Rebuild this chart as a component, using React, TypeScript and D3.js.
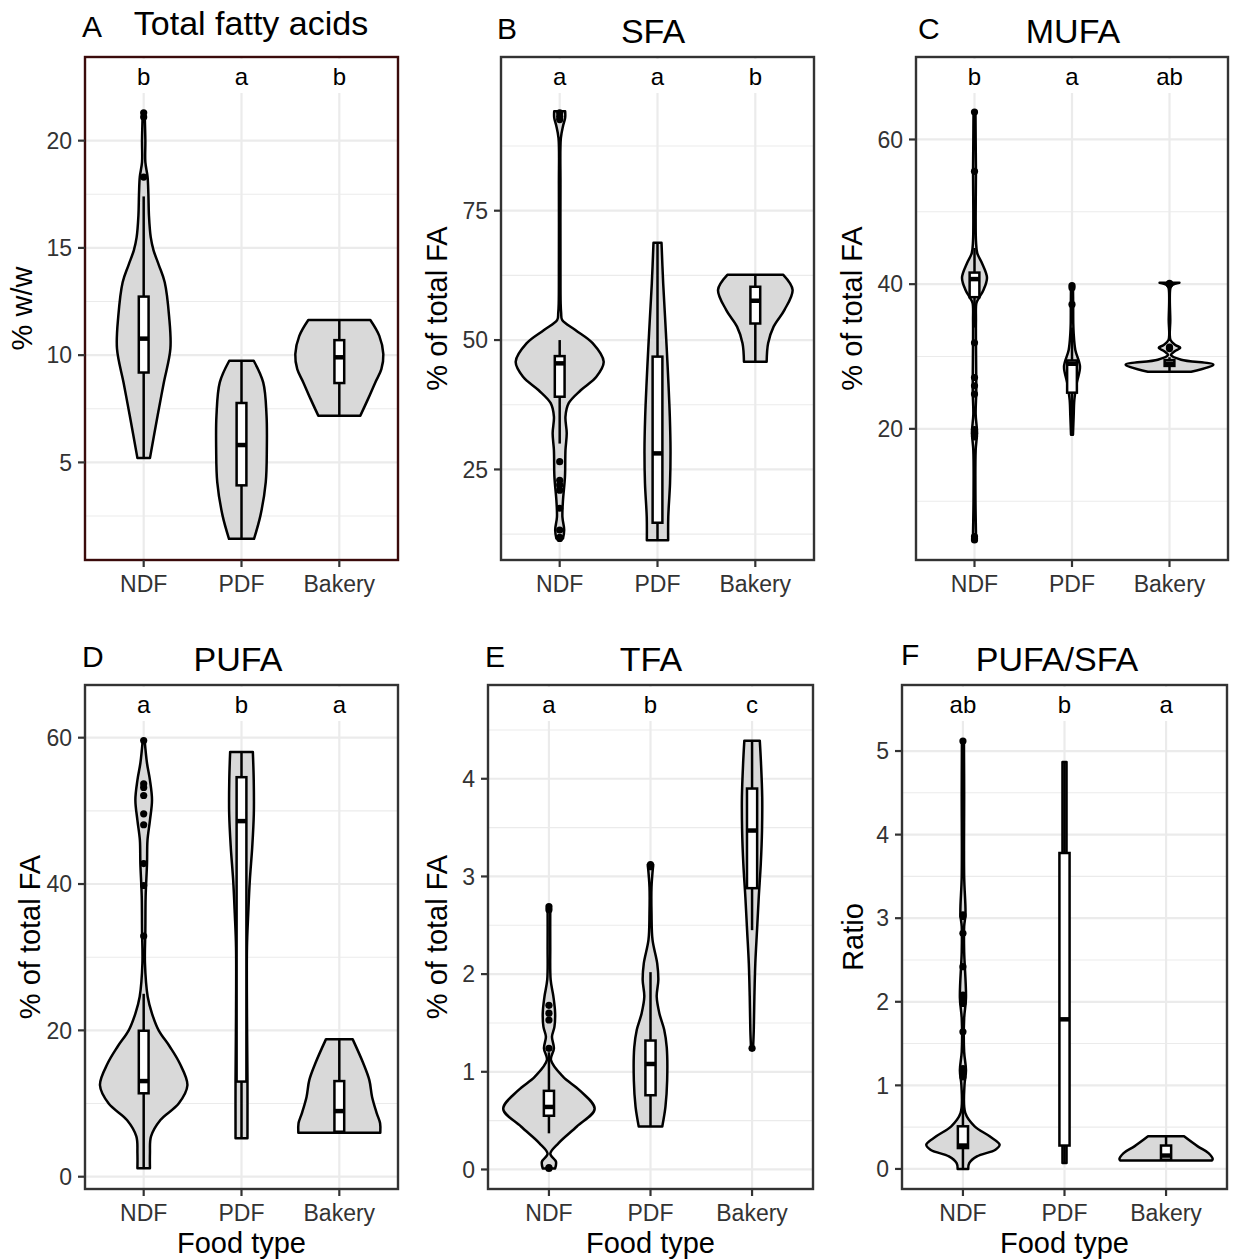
import React from 'react';
import * as d3 from 'd3';

// ---- data ----
const foodTypes = ['NDF', 'PDF', 'Bakery'];
const panelTags = ['A', 'B', 'C', 'D', 'E', 'F'];
const panelTitles = ['Total fatty acids', 'SFA', 'MUFA', 'PUFA', 'TFA', 'PUFA/SFA'];
const yTitles = ['% w/w', '% of total FA', '% of total FA', '% of total FA', '% of total FA', 'Ratio'];
const groupLetters = [
  ['b', 'a', 'b'],
  ['a', 'a', 'b'],
  ['b', 'a', 'ab'],
  ['a', 'b', 'a'],
  ['a', 'b', 'c'],
  ['ab', 'b', 'a'],
];
const yMajorTicks = [
  [5, 10, 15, 20],
  [25, 50, 75],
  [20, 40, 60],
  [0, 20, 40, 60],
  [0, 1, 2, 3, 4],
  [0, 1, 2, 3, 4, 5],
];
const yMinorTicks = [
  [2.5, 7.5, 12.5, 17.5],
  [12.5, 37.5, 62.5, 87.5],
  [10, 30, 50],
  [10, 30, 50],
  [0.5, 1.5, 2.5, 3.5, 4.5],
  [0.5, 1.5, 2.5, 3.5, 4.5],
];
const yLimits: [number, number][] = [
  [0.45, 23.9],
  [7.5, 104.7],
  [1.87, 71.4],
  [-1.68, 67.2],
  [-0.2, 4.96],
  [-0.24, 5.79],
];

// violin outlines: [value, half width in category steps], one list per food type
const totalFaViolins: [number, number][][] = [
  [[21.3, 0.01], [20, 0.017], [19, 0.017], [18.3, 0.04], [17.5, 0.048], [16.5, 0.054], [15.5, 0.072], [14.9, 0.1], [14.2, 0.155], [13.4, 0.215], [11.8, 0.26], [10.3, 0.273], [8.7, 0.205], [7.2, 0.143], [5.2, 0.064]],
  [[9.74, 0.125], [8.73, 0.222], [7.18, 0.256], [5.63, 0.259], [4.08, 0.248], [2.53, 0.194], [1.44, 0.128]],
  [[11.64, 0.317], [10.9, 0.409], [10.05, 0.45], [9.35, 0.43], [8.73, 0.368], [7.95, 0.293], [7.18, 0.215]],
];
const sfaViolins: [number, number][][] = [
  [[94.2, 0.056], [93, 0.056], [91.5, 0.036], [89, 0.012], [80, 0.008], [65, 0.008], [57, 0.01], [55.2, 0.015], [53.9, 0.025], [51.95, 0.16], [49.4, 0.337], [45.8, 0.45], [42.9, 0.375], [40.3, 0.215], [37.8, 0.092], [35.2, 0.059], [32, 0.072], [28.7, 0.059], [23.6, 0.054], [19.1, 0.034], [15.8, 0.028], [13.3, 0.046], [11.66, 0.034]],
  [[68.8, 0.041], [61, 0.058], [54.5, 0.077], [48.1, 0.095], [41.6, 0.112], [35.2, 0.126], [28.7, 0.133], [22.3, 0.128], [15.8, 0.11], [11.3, 0.109]],
  [[62.6, 0.286], [59.7, 0.381], [55.8, 0.297], [52.6, 0.187], [49.4, 0.131], [45.8, 0.116]],
];
const mufaViolins: [number, number][][] = [
  [[63.8, 0.01], [60, 0.012], [55.6, 0.015], [50, 0.012], [46, 0.015], [44.3, 0.028], [42.9, 0.077], [40.9, 0.128], [39.2, 0.092], [38.1, 0.046], [37.4, 0.02], [35, 0.015], [31.9, 0.015], [27, 0.018], [25, 0.018], [22, 0.012], [19.5, 0.026], [17, 0.012], [10, 0.01], [5.5, 0.015], [4.64, 0.015]],
  [[39.8, 0.01], [37.2, 0.012], [34.6, 0.013], [33.2, 0.017], [30.9, 0.034], [28.6, 0.082], [26.3, 0.048], [24, 0.024], [21.7, 0.017], [19.2, 0.01]],
  [[40.2, 0.102], [39.9, 0.03], [39.5, 0.01], [35, 0.008], [32.3, 0.01], [31.6, 0.06], [31.2, 0.11], [30.7, 0.05], [30.2, 0.015], [29.55, 0.12], [28.86, 0.45], [27.9, 0.222]],
];
const pufaViolins: [number, number][][] = [
  [[59.6, 0.01], [56.5, 0.034], [54.2, 0.064], [51.5, 0.085], [48.7, 0.064], [46, 0.039], [42.8, 0.034], [38.3, 0.02], [33.7, 0.017], [29.2, 0.013], [24.6, 0.041], [22.3, 0.085], [20, 0.153], [17.8, 0.266], [15.5, 0.368], [12.5, 0.447], [10, 0.358], [7.75, 0.171], [5.5, 0.075], [3.2, 0.064], [1.15, 0.064]],
  [[58.06, 0.116], [54.2, 0.125], [49.6, 0.126], [45.1, 0.11], [40.5, 0.085], [36, 0.069], [31.4, 0.056], [22.3, 0.056], [13.2, 0.061], [5.25, 0.061]],
  [[18.8, 0.136], [15.5, 0.245], [13.2, 0.307], [10.9, 0.335], [8.66, 0.383], [7.3, 0.417], [6, 0.419]],
];
const tfaViolins: [number, number][][] = [
  [[2.69, 0.013], [2.28, 0.013], [1.94, 0.017], [1.77, 0.044], [1.6, 0.061], [1.46, 0.054], [1.36, 0.03], [1.24, 0.049], [1.12, 0.02], [0.95, 0.138], [0.81, 0.303], [0.62, 0.45], [0.44, 0.275], [0.27, 0.095], [0.16, 0.013], [0.08, 0.069], [0.01, 0.061]],
  [[3.12, 0.027], [2.89, 0.01], [2.62, 0.01], [2.35, 0.02], [2.11, 0.066], [1.94, 0.077], [1.77, 0.061], [1.6, 0.087], [1.43, 0.135], [1.25, 0.16], [0.91, 0.164], [0.64, 0.147], [0.44, 0.116]],
  [[4.39, 0.076], [4.16, 0.088], [3.81, 0.1], [3.47, 0.098], [3.13, 0.086], [2.79, 0.066], [2.45, 0.049], [2.11, 0.032], [1.77, 0.023], [1.43, 0.017], [1.24, 0.01]],
];
const ratioViolins: [number, number][][] = [
  [[5.12, 0.01], [4.5, 0.012], [3.5, 0.012], [3.05, 0.025], [2.9, 0.012], [2.6, 0.012], [2.05, 0.03], [1.8, 0.012], [1.4, 0.012], [1.18, 0.03], [1.0, 0.015], [0.67, 0.023], [0.51, 0.115], [0.39, 0.263], [0.29, 0.361], [0.23, 0.32], [0.15, 0.138], [0.07, 0.062], [0.0, 0.052]],
  [[4.87, 0.02], [3.0, 0.02], [1.5, 0.02], [0.07, 0.02]],
  [[0.39, 0.177], [0.27, 0.312], [0.19, 0.418], [0.12, 0.459], [0.1, 0.452]],
];

// box stats: [lower whisker, q1, median, q3, upper whisker]
const totalFaBoxes = [[5.2, 9.19, 10.77, 12.73, 17.4], [1.44, 3.93, 5.81, 7.77, 9.74], [7.18, 8.7, 9.9, 10.7, 11.64]];
const sfaBoxes = [[30, 39.05, 45.5, 46.9, 50.0], [11.3, 14.7, 28.1, 46.8, 68.8], [45.8, 53.2, 57.6, 60.3, 62.6]];
const mufaBoxes = [[34, 38.2, 40.7, 41.6, 45], [19.2, 25.0, 29.0, 29.45, 34], [28.0, 28.7, 29.0, 29.5, 29.9]];
const pufaBoxes = [[1.15, 11.4, 13.07, 19.95, 25.0], [5.25, 13.0, 48.6, 54.6, 58.06], [6.0, 6.15, 8.97, 13.07, 18.8]];
const tfaBoxes = [[0.37, 0.55, 0.64, 0.805, 1.2], [0.44, 0.76, 1.08, 1.32, 2.02], [2.45, 2.88, 3.47, 3.9, 4.39]];
const ratioBoxes = [[0.0, 0.25, 0.28, 0.51, 0.85], [0.07, 0.28, 1.79, 3.78, 4.87], [0.1, 0.11, 0.16, 0.28, 0.39]];

// outliers per food type
const totalFaOutliers = [[18.3, 21.1, 21.3], [], []];
const sfaOutliers = [[93.9, 93.2, 92.6, 26.5, 22.9, 22.0, 21.0, 17.5, 13.3, 11.9, 11.66], [], []];
const mufaOutliers = [[63.8, 55.6, 31.9, 27.1, 25.95, 24.8, 19.9, 19.4, 18.9, 5.1, 4.8, 4.64], [39.8, 39.5, 37.2], [40.0, 40.1, 31.3, 31.1]];
const pufaOutliers = [[59.6, 53.7, 53.2, 52.1, 49.6, 48.1, 42.8, 39.8, 32.9], [], []];
const tfaOutliers = [[2.69, 2.66, 1.68, 1.6, 1.53, 1.24, 0.01, 0.02], [3.12, 3.1], [1.24]];
const ratioOutliers = [[5.12, 3.04, 3.02, 2.82, 2.42, 2.08, 2.02, 1.98, 1.64, 1.2, 1.16, 1.1], [], []];

const allViolins = [totalFaViolins, sfaViolins, mufaViolins, pufaViolins, tfaViolins, ratioViolins];
const allBoxes = [totalFaBoxes, sfaBoxes, mufaBoxes, pufaBoxes, tfaBoxes, ratioBoxes];
const allOutliers = [totalFaOutliers, sfaOutliers, mufaOutliers, pufaOutliers, tfaOutliers, ratioOutliers];

// ---- layout ----
const layout = [
  { x0: 85, x1: 398, y0: 57, y1: 560, border: '#3b0b0b', tagX: 82, tagY: 37, titleX: 251, titleY: 35, yTitleX: 22, xTitle: false },
  { x0: 501, x1: 814, y0: 57, y1: 560, border: '#333333', tagX: 497, tagY: 39, titleX: 653, titleY: 43, yTitleX: 437, xTitle: false },
  { x0: 916, x1: 1228, y0: 57, y1: 560, border: '#333333', tagX: 918, tagY: 39, titleX: 1073, titleY: 43, yTitleX: 852, xTitle: false },
  { x0: 85, x1: 398, y0: 685, y1: 1189, border: '#333333', tagX: 82, tagY: 667, titleX: 238, titleY: 671, yTitleX: 30, xTitle: true },
  { x0: 488, x1: 813, y0: 685, y1: 1189, border: '#333333', tagX: 485, tagY: 667, titleX: 651, titleY: 671, yTitleX: 437, xTitle: true },
  { x0: 902, x1: 1227, y0: 685, y1: 1189, border: '#333333', tagX: 901, tagY: 665, titleX: 1057, titleY: 671, yTitleX: 853, xTitle: true },
];

const font = '"Liberation Sans", Arial, Helvetica, sans-serif';
const lw = 2.5;

function Panel({ i }: { i: number }) {
  const L = layout[i];
  const x = d3.scalePoint<string>().domain(foodTypes).range([L.x0, L.x1]).padding(0.6);
  const step = x.step();
  const y = d3.scaleLinear().domain(yLimits[i]).range([L.y1, L.y0]);
  const midY = (L.y0 + L.y1) / 2;

  return (
    <g>
      <rect x={L.x0} y={L.y0} width={L.x1 - L.x0} height={L.y1 - L.y0} fill="#fff" />
      {yMinorTicks[i].map(t => (
        <line key={'mi' + t} x1={L.x0} x2={L.x1} y1={y(t)} y2={y(t)} stroke="#ebebeb" strokeWidth={1.1} />
      ))}
      {yMajorTicks[i].map(t => (
        <line key={'ma' + t} x1={L.x0} x2={L.x1} y1={y(t)} y2={y(t)} stroke="#ebebeb" strokeWidth={2.2} />
      ))}
      {foodTypes.map(c => (
        <line key={'v' + c} x1={x(c)} x2={x(c)} y1={L.y0} y2={L.y1} stroke="#ebebeb" strokeWidth={2.2} />
      ))}
      {foodTypes.map((c, k) => {
        const lbl = groupLetters[i][k];
        const w = lbl.length * 14 + 12;
        return <rect key={'lb' + c} x={(x(c) as number) - w / 2} y={L.y0 + 2} width={w} height={34} fill="#fff" />;
      })}
      {foodTypes.map((c, k) => {
        const cx = x(c) as number;
        const area = d3
          .area<[number, number]>()
          .y(d => y(d[0]))
          .x0(d => cx - d[1] * step)
          .x1(d => cx + d[1] * step)
          .curve(d3.curveCatmullRom);
        return (
          <path key={'vi' + c} d={area(allViolins[i][k]) || ''} fill="#d9d9d9" stroke="#000" strokeWidth={lw} strokeLinejoin="round" />
        );
      })}
      {foodTypes.map((c, k) => {
        const cx = x(c) as number;
        const [lo, q1, med, q3, hi] = allBoxes[i][k];
        const hw = 0.05 * step;
        return (
          <g key={'bx' + c}>
            <line x1={cx} x2={cx} y1={y(q3)} y2={y(hi)} stroke="#000" strokeWidth={lw} />
            <line x1={cx} x2={cx} y1={y(q1)} y2={y(lo)} stroke="#000" strokeWidth={lw} />
            <rect x={cx - hw} y={y(q3)} width={2 * hw} height={Math.max(0.5, y(q1) - y(q3))} fill="#fff" stroke="#000" strokeWidth={lw} />
            <line x1={cx - hw} x2={cx + hw} y1={y(med)} y2={y(med)} stroke="#000" strokeWidth={4.5} />
          </g>
        );
      })}
      {foodTypes.map((c, k) =>
        allOutliers[i][k].map((v, j) => <circle key={'o' + c + j} cx={x(c)} cy={y(v)} r={3.6} fill="#000" />)
      )}
      {foodTypes.map((c, k) => (
        <text key={'lt' + c} x={x(c)} y={L.y0 + 28} fontSize={24} textAnchor="middle" fill="#000" fontFamily={font}>
          {groupLetters[i][k]}
        </text>
      ))}
      <rect x={L.x0} y={L.y0} width={L.x1 - L.x0} height={L.y1 - L.y0} fill="none" stroke={L.border} strokeWidth={2.4} />
      {yMajorTicks[i].map(t => (
        <g key={'yt' + t}>
          <line x1={L.x0 - 7} x2={L.x0} y1={y(t)} y2={y(t)} stroke="#333" strokeWidth={2.2} />
          <text x={L.x0 - 13} y={y(t)} dy="0.36em" textAnchor="end" fontSize={23} fill="#333" fontFamily={font}>
            {t}
          </text>
        </g>
      ))}
      {foodTypes.map(c => (
        <g key={'xt' + c}>
          <line x1={x(c)} x2={x(c)} y1={L.y1} y2={L.y1 + 7} stroke="#333" strokeWidth={2.2} />
          <text x={x(c)} y={L.y1 + 32} textAnchor="middle" fontSize={23} fill="#333" fontFamily={font}>
            {c}
          </text>
        </g>
      ))}
      <text
        transform={`translate(${L.yTitleX},${midY}) rotate(-90)`}
        textAnchor="middle"
        dy="0.35em"
        fontSize={29}
        fill="#000"
        fontFamily={font}
      >
        {yTitles[i]}
      </text>
      {L.xTitle && (
        <text x={(L.x0 + L.x1) / 2} y={1253} textAnchor="middle" fontSize={29} fill="#000" fontFamily={font}>
          Food type
        </text>
      )}
      <text x={L.tagX} y={L.tagY} fontSize={30} fill="#000" fontFamily={font}>
        {panelTags[i]}
      </text>
      <text x={L.titleX} y={L.titleY} textAnchor="middle" fontSize={34} fill="#000" fontFamily={font}>
        {panelTitles[i]}
      </text>
    </g>
  );
}

export default function App() {
  return (
    <svg
      width={1234}
      height={1260}
      style={{ position: 'absolute', left: 0, top: 0, background: '#fff' }}
      xmlns="http://www.w3.org/2000/svg"
    >
      <rect width={1234} height={1260} fill="#fff" />
      {panelTags.map((_, i) => (
        <Panel key={i} i={i} />
      ))}
    </svg>
  );
}
